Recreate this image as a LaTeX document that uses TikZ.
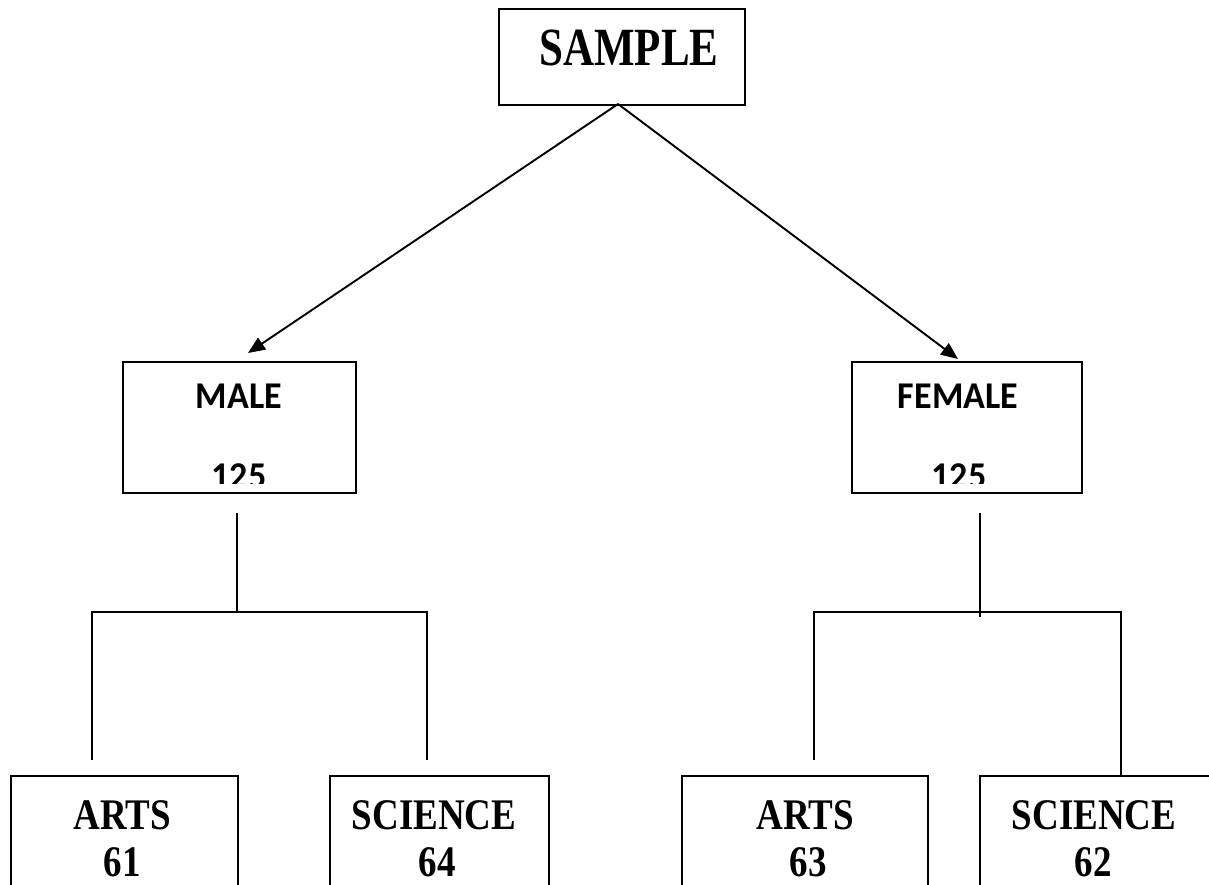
\documentclass[tikz,border=0pt]{standalone}
\usepackage{fontspec}
\usepackage{graphicx}
\setmainfont{Liberation Serif}
\newfontfamily\calfont{Carlito}
\usetikzlibrary{arrows.meta,calc}
\newcommand\vstretch[2]{\scalebox{1}[#1]{#2}}
\begin{document}
\begin{tikzpicture}[x=1pt,y=-1pt,
  box/.style={draw, line width=2pt, rectangle, inner sep=0pt, anchor=north west},
  lbl/.style={anchor=base, inner sep=0pt},
  serifbig/.style={font=\fontsize{43}{43}\selectfont\bfseries},
  serifmid/.style={font=\fontsize{37}{37}\selectfont\bfseries},
  sansmid/.style={font=\fontsize{36}{36}\selectfont\calfont\bfseries},
  conn/.style={line width=1.8pt},
  arr/.style={line width=1.9pt, -{Triangle[length=17pt,width=14pt]}}]
\clip (0,0) rectangle (1209,884);
\fill[white] (0,0) rectangle (1209,884);

% top box
\node[box, minimum width=246pt, minimum height=96pt] (sample) at (498,8) {};
\node[lbl, serifbig] (tsample) at (629,65) {\vstretch{1.25}{SAMPLE}};

% second level
\node[box, minimum width=233pt, minimum height=131pt] (male) at (122,361) {};
\node[lbl, sansmid] (tmale) at (239,408) {\vstretch{1.05}{MALE}};
\begin{scope}
  \clip (122,361) rectangle (355,483);
  \node[lbl, sansmid] (nmale) at (239,488) {\vstretch{1.05}{125}};
\end{scope}

\node[box, minimum width=230pt, minimum height=131pt] (female) at (851,361) {};
\node[lbl, sansmid] (tfemale) at (958,408) {\vstretch{1.05}{FEMALE}};
\begin{scope}
  \clip (851,361) rectangle (1081,483);
  \node[lbl, sansmid] (nfemale) at (959,488) {\vstretch{1.05}{125}};
\end{scope}

% bottom boxes
\node[box, minimum width=227pt, minimum height=140pt] (arts1) at (10,775) {};
\node[lbl, serifmid] (tarts1) at (122,829) {\vstretch{1.18}{ARTS}};
\node[lbl, serifmid] (narts1) at (122,876) {\vstretch{1.18}{61}};

\node[box, minimum width=219pt, minimum height=140pt] (sci1) at (329,775) {};
\node[lbl, serifmid] (tsci1) at (434,829) {\vstretch{1.18}{SCIENCE}};
\node[lbl, serifmid] (nsci1) at (437,876) {\vstretch{1.18}{64}};

\node[box, minimum width=246pt, minimum height=140pt] (arts2) at (681,775) {};
\node[lbl, serifmid] (tarts2) at (805,829) {\vstretch{1.18}{ARTS}};
\node[lbl, serifmid] (narts2) at (808,876) {\vstretch{1.18}{63}};

\node[box, minimum width=260pt, minimum height=140pt] (sci2) at (979,775) {};
\node[lbl, serifmid] (tsci2) at (1094,829) {\vstretch{1.18}{SCIENCE}};
\node[lbl, serifmid] (nsci2) at (1093,876) {\vstretch{1.18}{62}};

% arrows
\coordinate (src) at (618,104);
\coordinate (mtip) at (248,353);
\coordinate (ftip) at (958,359);
\draw[arr] (src) -- (mtip);
\draw[arr] (src) -- (ftip);

% male branch
\coordinate (ms1) at (237,513);
\coordinate (ms2) at (237,612);
\coordinate (mh1) at (92,612);
\coordinate (mh2) at (427,612);
\coordinate (md1) at (92,760);
\coordinate (md2) at (427,760);
\draw[conn] (ms1) -- (ms2);
\draw[conn] (md1) -- (mh1) -- (mh2) -- (md2);

% female branch
\coordinate (fs1) at (980,513);
\coordinate (fs2) at (980,617);
\coordinate (fh1) at (814,612);
\coordinate (fh2) at (1121,612);
\coordinate (fd1) at (814,760);
\coordinate (fd2) at (1121,775);
\draw[conn] (fs1) -- (fs2);
\draw[conn] (fd1) -- (fh1) -- (fh2) -- (fd2);
\end{tikzpicture}
\end{document}
